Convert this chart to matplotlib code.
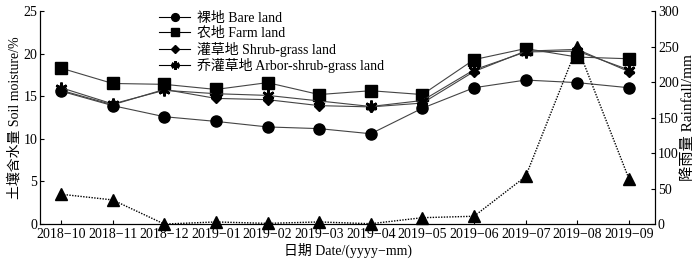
import matplotlib
matplotlib.use('Agg')
import matplotlib.pyplot as plt

plt.rcParams['font.family'] = ['Liberation Serif', 'Noto Sans CJK SC']
plt.rcParams['font.size'] = 10
plt.rcParams['axes.unicode_minus'] = False

# months on the x axis
dates = ['2018−10', '2018−11', '2018−12', '2019−01', '2019−02', '2019−03',
         '2019−04', '2019−05', '2019−06', '2019−07', '2019−08', '2019−09']

# soil moisture, %
bare = [15.6, 13.9, 12.6, 12.05, 11.4, 11.2, 10.6, 13.6, 16.0, 16.9, 16.6, 16.0]
farm = [18.3, 16.5, 16.4, 15.8, 16.6, 15.2, 15.65, 15.2, 19.3, 20.6, 19.6, 19.4]
shrub = [15.7, 14.0, 15.8, 14.75, 14.6, 13.9, 13.75, 14.2, 17.9, 20.3, 20.5, 17.9]
arbor = [16.0, 14.1, 15.7, 15.3, 15.1, 14.45, 13.8, 14.5, 18.1, 20.2, 20.3, 18.1]

# rainfall, mm
rain = [42, 34, 0, 3, 1, 3, 0.5, 9, 11, 67, 250, 64]

x = list(range(len(dates)))

fig = plt.figure(figsize=(7, 2.63), dpi=100)
ax = fig.add_axes([0.057, 0.148, 0.879, 0.81])
ax2 = ax.twinx()

lc = '#444444'
ax.plot(x, bare, color=lc, lw=0.8, marker='o', ms=8, mfc='k', mec='k',
        label='裸地 Bare land')
ax.plot(x, farm, color=lc, lw=0.8, marker='s', ms=8, mfc='k', mec='k',
        label='农地 Farm land')
ax.plot(x, shrub, color=lc, lw=0.8, marker='D', ms=5.5, mfc='k', mec='k',
        label='灌草地 Shrub-grass land')
ax.plot(x, arbor, color=lc, lw=0.8, marker=(6, 2, 0), ms=8.5, mfc='k', mec='k',
        mew=1.8, label='乔灌草地 Arbor-shrub-grass land')

ax2.plot(x, rain, color='k', lw=1.0, ls=(0, (1.0, 1.0)), marker='^', ms=9,
         mfc='k', mec='k', clip_on=False)

ax.set_xlim(-0.41, 11.51)
ax.set_ylim(0, 25)
ax2.set_ylim(0, 300)
ax.set_xticks(x)
ax.set_xticklabels(dates)
ax.set_yticks([0, 5, 10, 15, 20, 25])
ax2.set_yticks([0, 50, 100, 150, 200, 250, 300])

for a in (ax, ax2):
    a.spines['top'].set_visible(False)
    a.tick_params(direction='in', length=3, width=0.8, labelsize=10, pad=2)
ax.tick_params(axis='x', pad=3)

ax.set_ylabel('土壤含水量 Soil moisture/%', fontsize=10, labelpad=1)
ax2.set_ylabel('降雨量 Rainfall/mm', fontsize=11, labelpad=2)
ax.set_xlabel('日期 Date/(yyyy−mm)', fontsize=10, labelpad=1)

leg = ax.legend(loc='upper left', bbox_to_anchor=(0.177, 1.04), frameon=False,
                handlelength=2.3, handletextpad=0.5, labelspacing=0.12,
                markerscale=0.7, fontsize=10, borderpad=0.2)
for h in leg.legend_handles:
    h.set_color('k')

fig.savefig('out.png', dpi=100)
